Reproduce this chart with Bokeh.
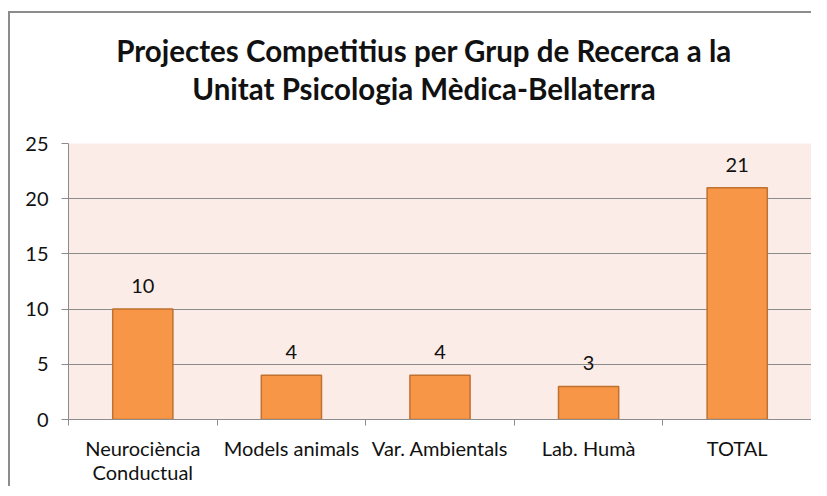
from bokeh.plotting import figure
from bokeh.models import ColumnDataSource, FixedTicker, Range1d
from bokeh.layouts import column
from bokeh.core.properties import value
from bokeh.embed import file_html
from bokeh.resources import INLINE

categories = ["Neurociència\nConductual", "Models animals", "Var. Ambientals", "Lab. Humà", "TOTAL"]
projects = [10, 4, 4, 3, 21]
y_ticks = [0, 5, 10, 15, 20, 25]
title_lines = ["Projectes Competitius per Grup de Recerca a la", "Unitat Psicologia Mèdica-Bellaterra"]

FONT = "Lato"
TXT = "#111111"
GRAY = "#8c8c8c"
xs = [i + 0.5 for i in range(len(categories))]
src = ColumnDataSource(dict(x=xs, top=projects, label=[str(v) for v in projects]))

# title strip
t = figure(width=801, height=116, output_backend="svg", toolbar_location=None,
           x_range=Range1d(0, 1), y_range=Range1d(0, 1), x_axis_type=None, y_axis_type=None,
           min_border=0)
t.grid.visible = False
t.outline_line_color = None
t.background_fill_color = "white"
t.border_fill_color = "white"
tsrc = ColumnDataSource(dict(x=[0.5, 0.5], y=[1, 1], text=title_lines, dy=[37, 75]))
t.text(x="x", y="y", text="text", y_offset="dy", source=tsrc, x_offset=-16,
       text_align="center", text_baseline="alphabetic", text_font=value(FONT),
       text_font_size="29.5px", text_font_style="bold", text_color=TXT)

# chart
p = figure(width=801, height=357, output_backend="svg", toolbar_location=None,
           x_range=Range1d(0, len(categories)), y_range=Range1d(0, 25),
           min_border_left=58, min_border_right=0, min_border_top=14, min_border_bottom=67)
p.background_fill_color = "#FCECE7"
p.border_fill_color = "white"
p.outline_line_color = None

p.vbar(x="x", top="top", width=0.405, source=src, fill_color="#F79646", line_color="#C0702F", line_width=1.5)
p.text(x="x", y="top", text="label", source=src, text_align="center", text_baseline="middle",
       y_offset=-23, text_font=value(FONT), text_font_size="20px", text_color=TXT)

p.xgrid.visible = False
p.ygrid.grid_line_color = GRAY
p.ygrid.grid_line_width = 1
p.yaxis.ticker = FixedTicker(ticks=y_ticks)
p.yaxis.axis_line_color = GRAY
p.yaxis.major_tick_line_color = GRAY
p.yaxis.major_tick_out = 7
p.yaxis.major_tick_in = 0
p.yaxis.minor_tick_line_color = None
p.yaxis.major_label_text_font = FONT
p.yaxis.major_label_text_font_size = "20px"
p.yaxis.major_label_text_color = TXT
p.yaxis.major_label_standoff = 13

p.xaxis.ticker = FixedTicker(ticks=xs, minor_ticks=list(range(len(categories) + 1)))
p.xaxis.major_label_overrides = {x: c for x, c in zip(xs, categories)}
p.xaxis.axis_line_color = GRAY
p.xaxis.major_tick_line_color = None
p.xaxis.major_tick_out = 6
p.xaxis.minor_tick_line_color = GRAY
p.xaxis.minor_tick_out = 6
p.xaxis.minor_tick_in = 0
p.xaxis.major_label_text_font = FONT
p.xaxis.major_label_text_font_size = "20px"
p.xaxis.major_label_text_line_height = 1.0
p.xaxis.major_label_text_color = TXT
p.xaxis.major_label_standoff = 10

layout = column(t, p, spacing=0)
layout.styles = {"border-top": "2px solid " + GRAY, "border-left": "2px solid " + GRAY,
                 "margin-top": "11px", "margin-left": "8px"}

open("out.html", "w").write(file_html(layout, INLINE))
